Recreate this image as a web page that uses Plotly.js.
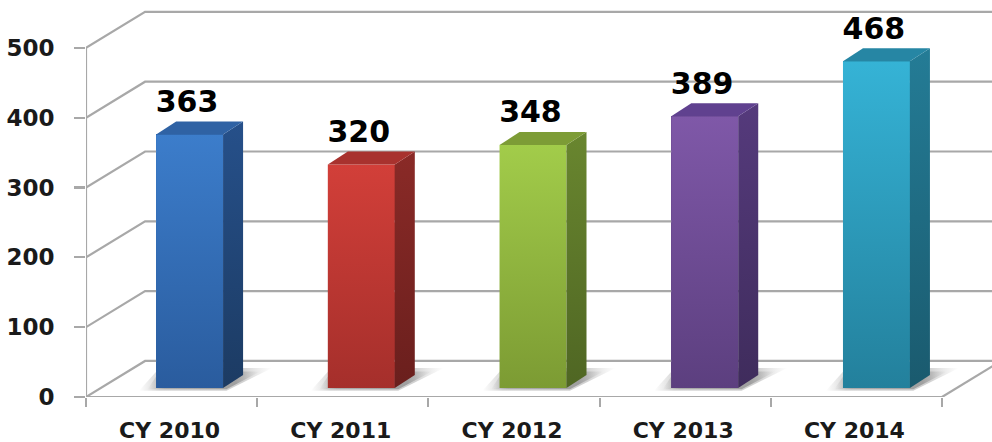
<!DOCTYPE html>
<html><head><meta charset="utf-8">
<script src="https://cdn.plot.ly/plotly-3.0.1.min.js"></script>
<style>html,body{margin:0;padding:0;background:#fff}</style></head>
<body><div id="chart" style="width:992px;height:442px"></div>
<script>
const categories = ["CY 2010","CY 2011","CY 2012","CY 2013","CY 2014"];
const values = [363,320,348,389,468];
const yTicks = [0,100,200,300,400,500];
const frontTop = ["#3c7dcb","#d23f39","#a2cc4a","#7f58a8","#35b3d6"];
const frontBottom = ["#2a5c9e","#a52f2b","#7c9b33","#5c3f7f","#23809c"];
const sideTop = ["#26508a","#8a2a27","#69862f","#553a7c","#247c96"];
const sideBottom = ["#1c3b63","#6a1f1d","#4f6623","#3f2c5c","#1a5a6e"];
const roof = ["#2f62a4","#a8322e","#7d9c36","#60418f","#2686a4"];

const gray = "#a8a8a8";
const wallDx = 0.345, wallDy = 51.6;
const barShift = 0.105, barSpread = 1.003, barW = 0.391, barBase = 13, barDx = 0.117, barDy = 18.6;
const labelGap = 43;
const barX = i => i*barSpread+barShift;
const line = (x, y, w = 2.2) => ({type:"scatter",mode:"lines",x,y,cliponaxis:false,hoverinfo:"skip",showlegend:false,
  line:{color:gray,width:w}});
const poly = (x, y, c1, c2, type = "vertical") => ({type:"scatter",mode:"lines",x,y,fill:"toself",hoverinfo:"skip",showlegend:false,
  line:{width:0},cliponaxis:false,fillgradient:{type,colorscale:[[0,c1],[1,c2]]}});

const traces = [];
yTicks.forEach(v => {
  traces.push(line([-0.5,-0.5+wallDx,5.2],[v,v+wallDy,v+wallDy]));
});
traces.push(line([4.5,4.5+wallDx],[0,wallDy]));
traces.push(line([-0.5,4.5],[0,0]));
traces.push(line([-0.5,-0.5],[0,500]));
values.forEach((v,i) => {
  const l = barX(i)-barW/2, r = barX(i)+barW/2;
  [[0.10,0.17,-4,10,0.32],[0.05,0.10,-2,5,0.5]].forEach(([a,b,lo,hi,op]) => {
    traces.push({type:"scatter",mode:"lines",hoverinfo:"skip",showlegend:false,line:{width:0},fill:"toself",
      x:[l-a,r+0.02,r+barDx+b,l+0.02,l-a],y:[barBase+lo,barBase+lo,barBase+barDy+hi,barBase+barDy+hi,barBase+lo],
      fillgradient:{type:"horizontal",colorscale:[[0,"rgba(130,130,130,0)"],[0.15,`rgba(130,130,130,${op})`],[0.78,`rgba(110,110,110,${op})`],[1,"rgba(150,150,150,0)"]]}});
  });
});
values.forEach((v,i) => {
  traces.push({type:"bar",x:[barX(i)],y:[v],base:[barBase],width:[barW],marker:{color:frontBottom[i],line:{width:0}},
    showlegend:false,name:categories[i],hovertemplate:categories[i]+": %{y}<extra></extra>"});
});
values.forEach((v,i) => {
  const l = barX(i)-barW/2, r = barX(i)+barW/2, t = v+barBase;
  traces.push(poly([l,r,r,l,l],[barBase,barBase,t,t,barBase],frontBottom[i],frontTop[i]));
  traces.push(poly([r,r+barDx,r+barDx,r,r],[barBase,barBase+barDy,t+barDy,t,barBase],sideBottom[i],sideTop[i]));
  traces.push(poly([l,r,r+barDx,l+barDx,l],[t,t,t+barDy,t+barDy,t],roof[i],roof[i]));
});
traces.push({type:"scatter",mode:"text",x:values.map((v,i)=>barX(i)-0.015),y:values.map(v=>v+barBase+labelGap),
  text:values.map(String),textposition:"middle center",cliponaxis:false,hoverinfo:"skip",showlegend:false,
  textfont:{family:"DejaVu Sans",size:30,color:"#000",weight:700}});

Plotly.newPlot("chart",traces,{
  width:992,height:442,paper_bgcolor:"#fff",plot_bgcolor:"rgba(0,0,0,0)",showlegend:false,
  margin:{l:86,r:0,t:0,b:45},bargap:0,
  xaxis:{type:"linear",range:[-0.5,4.792],tickmode:"array",tickvals:categories.map((c,i)=>i),ticktext:categories,
    showgrid:false,zeroline:false,showline:false,ticks:"",ticklabelstandoff:18,ticklabelshift:-2,
    tickfont:{family:"DejaVu Sans",size:22,color:"#1a1a1a",weight:700},
    minor:{tickmode:"array",tickvals:categories.map((c,i)=>i-0.5).concat([4.5]),ticks:"outside",ticklen:9,tickwidth:2,tickcolor:gray,showgrid:false}},
  yaxis:{range:[0,568.6],tickmode:"array",tickvals:yTicks,showgrid:false,zeroline:false,showline:false,
    ticks:"outside",ticklen:11,tickwidth:2.2,tickcolor:gray,ticklabelstandoff:15,
    tickfont:{family:"DejaVu Sans",size:23,color:"#1a1a1a",weight:700}}
},{staticPlot:true,displayModeBar:false});
</script></body></html>
